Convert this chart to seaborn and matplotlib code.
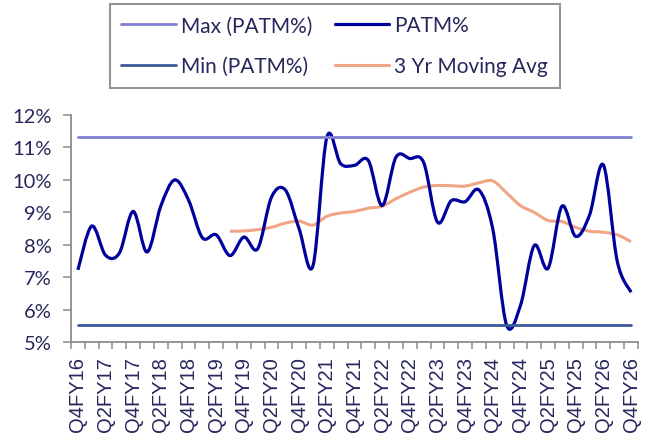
import numpy as np
import pandas as pd
import matplotlib
matplotlib.use("Agg")
import matplotlib.pyplot as plt
from matplotlib.path import Path
from matplotlib.patches import PathPatch
from matplotlib.lines import Line2D
import seaborn as sns

########## data ################################################
quarters = ['Q4FY16', 'Q1FY17', 'Q2FY17', 'Q3FY17', 'Q4FY17', 'Q1FY18', 'Q2FY18', 'Q3FY18',
            'Q4FY18', 'Q1FY19', 'Q2FY19', 'Q3FY19', 'Q4FY19', 'Q1FY20', 'Q2FY20', 'Q3FY20',
            'Q4FY20', 'Q1FY21', 'Q2FY21', 'Q3FY21', 'Q4FY21', 'Q1FY22', 'Q2FY22', 'Q3FY22',
            'Q4FY22', 'Q1FY23', 'Q2FY23', 'Q3FY23', 'Q4FY23', 'Q1FY24', 'Q2FY24', 'Q3FY24',
            'Q4FY24', 'Q1FY25', 'Q2FY25', 'Q3FY25', 'Q4FY25', 'Q1FY26', 'Q2FY26', 'Q3FY26',
            'Q4FY26']

patm = [7.23, 8.58, 7.68, 7.75, 9.03, 7.78, 9.20, 10.00, 9.38, 8.22, 8.31, 7.67,
        8.24, 7.88, 9.47, 9.69, 8.49, 7.36, 11.31, 10.50, 10.45, 10.60, 9.21, 10.70,
        10.66, 10.54, 8.70, 9.36, 9.33, 9.69, 8.49, 5.53, 6.13, 7.98, 7.28, 9.19,
        8.26, 8.92, 10.46, 7.50, 6.54]

# 3 yr moving average starts at Q3FY19
ma_start = 11
ma_3yr = [8.42, 8.43, 8.47, 8.54, 8.67, 8.73, 8.61, 8.88, 8.98, 9.03, 9.13, 9.19,
          9.42, 9.62, 9.78, 9.83, 9.82, 9.81, 9.91, 9.97, 9.60, 9.21, 9.00, 8.75,
          8.72, 8.54, 8.42, 8.39, 8.31, 8.10]

patm_max = 11.31
patm_min = 5.53

yticks = [5, 6, 7, 8, 9, 10, 11, 12]

c_max = '#7f80d2'
c_patm = '#00009c'
c_min = '#3b5998'
c_ma = '#f0a584'
c_text = '#27275c'
c_axis = '#8c8c8c'


def smooth_path(xs, ys):
    """excel style smoothed line: bezier through every point"""
    pts = np.column_stack([xs, ys]).astype(float)
    n = len(pts)
    verts = [pts[0]]
    codes = [Path.MOVETO]
    for i in range(n - 1):
        p0 = pts[i - 1] if i > 0 else pts[i]
        p1 = pts[i]
        p2 = pts[i + 1]
        p3 = pts[i + 2] if i + 2 < n else pts[i + 1]
        verts += [p1 + (p2 - p0) / 6.0, p2 - (p3 - p1) / 6.0, p2]
        codes += [Path.CURVE4] * 3
    return Path(verts, codes)


sns.set_theme(style='white')
plt.rcParams['font.family'] = ['Lato', 'DejaVu Sans']

fig = plt.figure(figsize=(6.56, 4.39), dpi=100)
ax = fig.add_axes([0.1082, 0.218, 0.8643, 0.5178])

idx = np.arange(len(quarters))
df = pd.DataFrame({'idx': idx, 'patm': patm,
                   'max': [patm_max] * len(quarters),
                   'min': [patm_min] * len(quarters)})

sns.lineplot(data=df, x='idx', y='max', color=c_max, linewidth=2.0, ax=ax)
sns.lineplot(data=df, x='idx', y='min', color=c_min, linewidth=2.0, ax=ax)

ma_idx = idx[ma_start:ma_start + len(ma_3yr)]
ax.add_patch(PathPatch(smooth_path(ma_idx, ma_3yr), fill=False, edgecolor=c_ma,
                       linewidth=2.2, capstyle='butt', joinstyle='round'))
ax.add_patch(PathPatch(smooth_path(idx, patm), fill=False, edgecolor=c_patm,
                       linewidth=2.3, capstyle='butt', joinstyle='round'))

ax.set_xlim(-0.5, len(quarters) - 0.5)
ax.set_ylim(5, 12)
ax.set_xlabel('')
ax.set_ylabel('')

# tick marks between categories, labels on every 2nd quarter
ax.set_xticks(np.arange(-0.5, len(quarters), 1))
ax.set_xticklabels([])
ax.set_xticks(idx[::2], minor=True)
ax.set_xticklabels(quarters[::2], minor=True, rotation=90, fontsize=14.5,
                   family=['Liberation Sans', 'DejaVu Sans'], color=c_text)
ax.tick_params(axis='x', which='major', direction='out', length=5, width=1.1,
               color=c_axis, bottom=True)
ax.tick_params(axis='x', which='minor', length=0, pad=10, bottom=True)

ax.set_yticks(yticks)
ax.set_yticklabels([str(v) + '%' for v in yticks], fontsize=14.5, color=c_text)
ax.tick_params(axis='y', direction='out', length=6, width=1.1, color=c_axis,
               pad=8, left=True)

sns.despine(ax=ax)
for s in ['left', 'bottom']:
    ax.spines[s].set_color(c_axis)
    ax.spines[s].set_linewidth(1.3)

handles = [Line2D([], [], color=c_max, lw=2.0),
           Line2D([], [], color=c_min, lw=2.0),
           Line2D([], [], color=c_patm, lw=2.3),
           Line2D([], [], color=c_ma, lw=2.2)]
labels = ['Max (PATM%)', 'Min (PATM%)', 'PATM%', '3 Yr Moving Avg']
leg = fig.legend(handles, labels, ncol=2, loc='upper left',
                 bbox_to_anchor=(110 / 656, 1 - 5 / 439), fontsize=15,
                 frameon=True, fancybox=False, handlelength=2.6,
                 handletextpad=0.25, columnspacing=1.1, labelspacing=1.0,
                 borderpad=0.55, borderaxespad=0)
leg.get_frame().set_edgecolor('#7a7a7a')
leg.get_frame().set_linewidth(1.5)
for t in leg.get_texts():
    t.set_color(c_text)

fig.savefig('out.png', dpi=100)
